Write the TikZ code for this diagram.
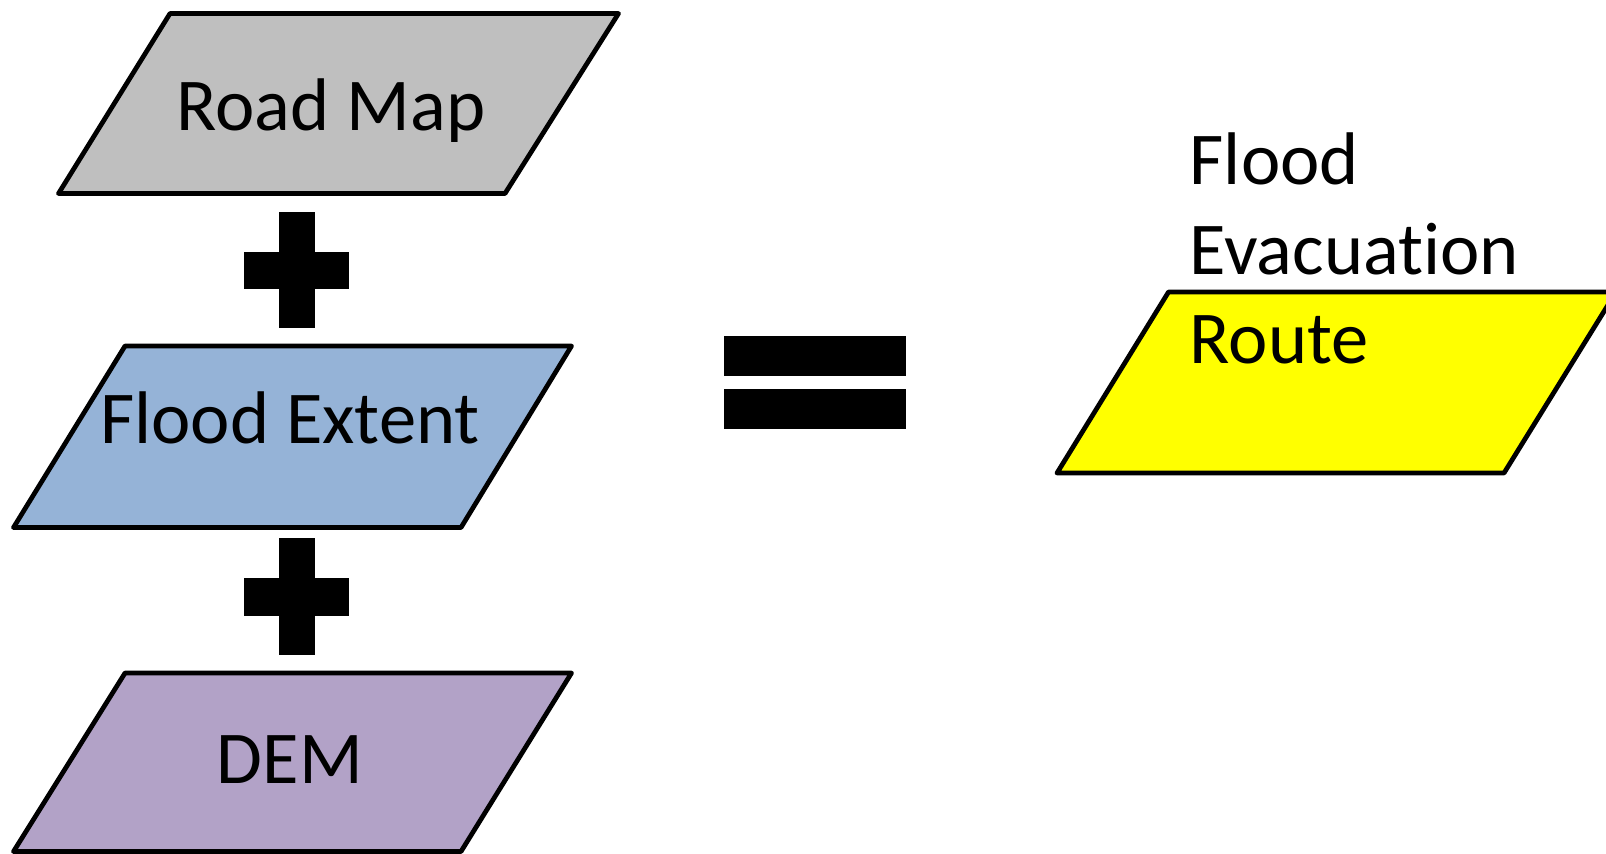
\documentclass[tikz,border=0pt]{standalone}
\usepackage{fontspec}
\setmainfont{Carlito}[Ligatures=NoCommon]
\definecolor{roadgray}{HTML}{BFBFBF}
\definecolor{floodblue}{HTML}{95B3D7}
\definecolor{dempurple}{HTML}{B2A2C7}
\definecolor{routeyellow}{HTML}{FFFF00}
\tikzset{
  databox/.style={draw=black, line width=1.35pt, line join=round},
  bigsign/.style={fill=black, draw=none},
  lbl/.style={inner sep=0pt, anchor=base, font=\fontsize{21.2}{26}\selectfont},
  lblw/.style={inner sep=0pt, anchor=base west, font=\fontsize{21.2}{26}\selectfont}
}
\begin{document}
\begin{tikzpicture}[x=0.01cm,y=-0.01cm]
\useasboundingbox (0,0) rectangle (1606,853);
\clip (0,0) rectangle (1606,853);
% Road Map
\draw[databox, fill=roadgray] (170,13.5) -- (618.5,13.5) -- (505,193.5) -- (58.5,193.5) -- cycle;
\node[lbl] (road) at (331,130) {Road Map};
% plus 1
\fill[bigsign] (278.5,212) rectangle (314.5,328);
\fill[bigsign] (244,252) rectangle (348.5,289);
% Flood Extent
\draw[databox, fill=floodblue] (125,346) -- (571.5,346) -- (461,527.5) -- (13.5,527.5) -- cycle;
\node[lbl] (flood) at (290,443.5) {Flood Extent};
% plus 2
\fill[bigsign] (278.5,538) rectangle (314.5,654.5);
\fill[bigsign] (244,577.5) rectangle (348.5,615.5);
% DEM
\draw[databox, fill=dempurple] (125,673) -- (571.5,673) -- (461,851.5) -- (13.5,851.5) -- cycle;
\node[lbl] (dem) at (290,783.5) {DEM};
% equals
\fill[bigsign] (724,336) rectangle (905.5,376);
\fill[bigsign] (724,389) rectangle (905.5,429);
% Result
\draw[databox, fill=routeyellow] (1168.5,292) -- (1616,292) -- (1504,473) -- (1057,473) -- cycle;
\node[lblw] (res1) at (1189,184) {Flood};
\node[lblw] (res2) at (1189,274.5) {Evacuation};
\node[lblw] (res3) at (1189,363.5) {Route};
\end{tikzpicture}
\end{document}
